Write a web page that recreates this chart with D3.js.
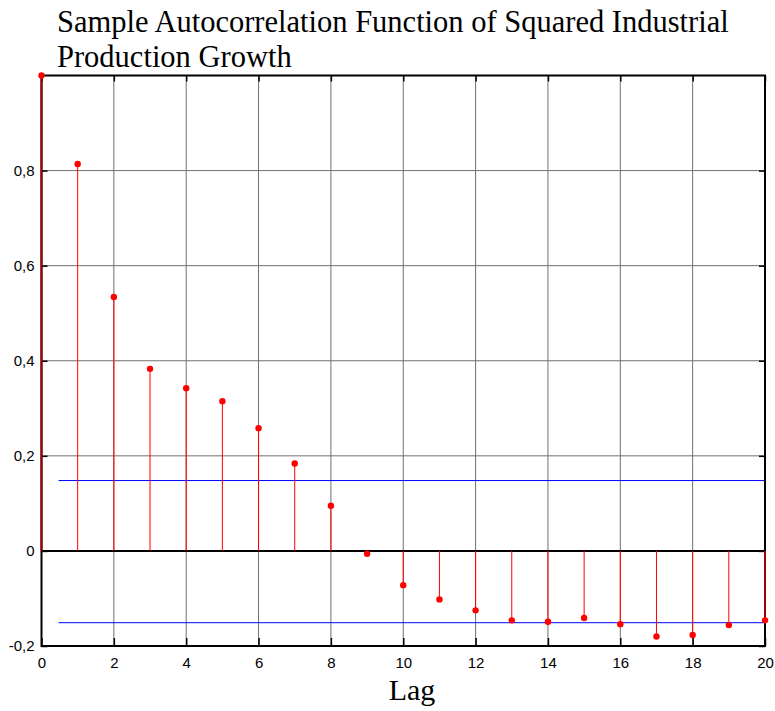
<!DOCTYPE html>
<html>
<head>
<meta charset="utf-8">
<script src="https://cdn.jsdelivr.net/npm/d3@7"></script>
<style>
  body { margin: 0; background: #fff; }
</style>
</head>
<body>
<div id="chart"></div>
<script>
// data
const lags = d3.range(0, 21);
const acf = [1.0, 0.814, 0.534, 0.383, 0.342, 0.315, 0.258, 0.184, 0.095, -0.006,
    -0.072, -0.102, -0.125, -0.146, -0.149, -0.141, -0.154, -0.180, -0.177, -0.156, -0.146];
const bounds = [0.148, -0.151];
const xTicks = d3.range(0, 21, 2);
const yTicks = [-0.2, 0, 0.2, 0.4, 0.6, 0.8];
const yTickLabels = ["-0,2", "0", "0,2", "0,4", "0,6", "0,8"];

const W = 775, H = 711;
const margin = {top: 75.5, right: 10, bottom: 65, left: 41.5};
const width = W - margin.left - margin.right,
    height = H - margin.top - margin.bottom;

const svg = d3.select("#chart").append("svg")
    .attr("width", W)
    .attr("height", H);

const g = svg.append("g")
    .attr("transform", `translate(${margin.left},${margin.top})`);

const x = d3.scaleLinear().domain([0, 20]).range([0, width]);
const y = d3.scaleLinear().domain([-0.2, 1]).range([height, 0]);

// grid
g.selectAll("line.vgrid")
    .data(xTicks.slice(1, -1))
    .enter().append("line")
    .attr("x1", d => x(d)).attr("x2", d => x(d))
    .attr("y1", 0).attr("y2", height)
    .attr("stroke", "#707070").attr("stroke-width", 1);
g.selectAll("line.hgrid")
    .data(yTicks.filter(d => d !== 0 && d !== -0.2))
    .enter().append("line")
    .attr("x1", 0).attr("x2", width)
    .attr("y1", d => y(d)).attr("y2", d => y(d))
    .attr("stroke", "#707070").attr("stroke-width", 1);

// axes with inward ticks
const fmt = d => yTickLabels[yTicks.indexOf(d)];
g.append("g")
    .call(d3.axisLeft(y).tickValues(yTicks).tickFormat(fmt).tickSizeInner(-6).tickSizeOuter(0).tickPadding(7))
    .call(a => a.select(".domain").remove());
g.append("g")
    .attr("transform", `translate(${width},0)`)
    .call(d3.axisRight(y).tickValues(yTicks).tickFormat("").tickSizeInner(-6).tickSizeOuter(0))
    .call(a => a.select(".domain").remove());
g.append("g")
    .attr("transform", `translate(0,${height})`)
    .call(d3.axisBottom(x).tickValues(xTicks).tickFormat(d3.format("d")).tickSizeInner(-8).tickSizeOuter(0).tickPadding(11))
    .call(a => a.select(".domain").remove());
g.append("g")
    .call(d3.axisTop(x).tickValues(xTicks).tickFormat("").tickSizeInner(-6).tickSizeOuter(0))
    .call(a => a.select(".domain").remove());
g.selectAll(".tick text")
    .attr("font-family", "Liberation Sans, Arial, sans-serif")
    .attr("font-size", 15)
    .attr("fill", "#000");
g.selectAll(".tick line").attr("stroke", "#000").attr("stroke-width", 1.5);

// confidence bounds
g.selectAll("line.bound")
    .data(bounds)
    .enter().append("line")
    .attr("x1", x(0.47)).attr("x2", width)
    .attr("y1", d => y(d)).attr("y2", d => y(d))
    .attr("stroke", "#0000ff").attr("stroke-width", 1);

// zero line
g.append("line")
    .attr("x1", 0).attr("x2", width)
    .attr("y1", y(0)).attr("y2", y(0))
    .attr("stroke", "#000").attr("stroke-width", 2);

// frame
g.append("rect")
    .attr("width", width).attr("height", height)
    .attr("fill", "none").attr("stroke", "#000").attr("stroke-width", 2);

// stems
g.selectAll("line.stem")
    .data(lags)
    .enter().append("line")
    .attr("x1", d => x(d)).attr("x2", d => x(d))
    .attr("y1", y(0)).attr("y2", d => y(acf[d]))
    .attr("stroke", d => (d === 0 || d === 20) ? "#a00000" : "#ff0000")
    .attr("stroke-width", d => (d === 0 || d === 20) ? 2 : 1);

// markers
g.selectAll("circle")
    .data(lags)
    .enter().append("circle")
    .attr("cx", d => x(d)).attr("cy", d => y(acf[d]))
    .attr("r", 3.2)
    .attr("fill", "#ff0000");

// title
const title = svg.append("text")
    .attr("x", 57).attr("y", 32)
    .attr("font-family", "Liberation Serif, Times New Roman, serif")
    .attr("font-size", 30.5)
    .attr("fill", "#000");
title.append("tspan").attr("x", 57).attr("dy", 0).text("Sample Autocorrelation Function of Squared Industrial");
title.append("tspan").attr("x", 57).attr("dy", 35).text("Production Growth");

// x label
svg.append("text")
    .attr("x", 412).attr("y", 700)
    .attr("text-anchor", "middle")
    .attr("font-family", "Liberation Serif, Times New Roman, serif")
    .attr("font-size", 30)
    .attr("fill", "#000")
    .text("Lag");
</script>
</body>
</html>
